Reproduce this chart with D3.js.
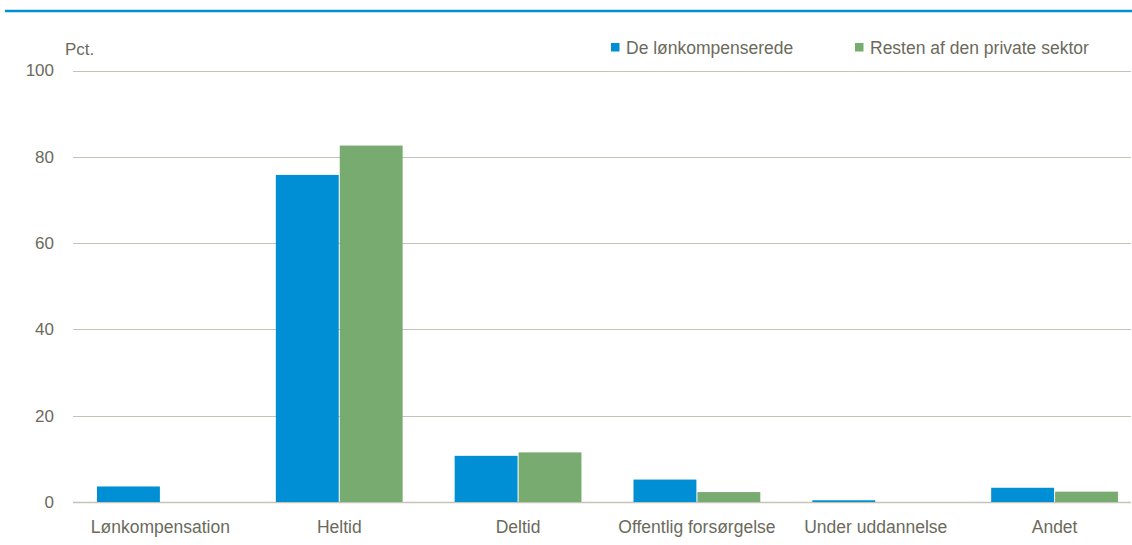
<!DOCTYPE html>
<html>
<head>
<meta charset="utf-8">
<script src="https://cdn.jsdelivr.net/npm/d3@7"></script>
<style>
  body { margin: 0; background: #fff; }
  svg text { font-family: "Liberation Sans", Arial, sans-serif; fill: #6b6a5c; }
</style>
</head>
<body>
<svg id="chart" width="1132" height="545"></svg>
<script>
// data
var categories = ["Lønkompensation", "Heltid", "Deltid", "Offentlig forsørgelse", "Under uddannelse", "Andet"];
var seriesNames = ["De lønkompenserede", "Resten af den private sektor"];
var lonkompenserede = [3.6, 75.8, 10.7, 5.2, 0.4, 3.3];
var restenPrivat = [0, 82.6, 11.5, 2.3, 0, 2.4];
var yTicks = [0, 20, 40, 60, 80, 100];

var colors = ["#008fd5", "#78ab6f"];

var svg = d3.select("#chart");
var W = +svg.attr("width");

// blue rule along the top
svg.append("line")
    .attr("x1", 5).attr("x2", W)
    .attr("y1", 11).attr("y2", 11)
    .attr("stroke", "#008fd5")
    .attr("stroke-width", 2.5);

var x = d3.scaleBand().domain(categories).range([71, 1144]).paddingInner(0).paddingOuter(0);
var inner = d3.scaleBand().domain([0, 1]).range([26, 178.8 - 26]).paddingInner(0.016);
var y = d3.scaleLinear().domain([0, 100]).range([502, 70.5]);

// gridlines
svg.append("g").selectAll("line")
    .data(yTicks)
    .enter().append("line")
      .attr("x1", 73).attr("x2", W - 1)
      .attr("y1", function(d) { return Math.round(y(d)) + 0.5; })
      .attr("y2", function(d) { return Math.round(y(d)) + 0.5; })
      .attr("stroke", "#c4c3b8")
      .attr("stroke-width", function(d) { return d === 0 ? 1.5 : 1.2; });

// y axis labels
var yAxis = svg.append("g")
    .attr("transform", "translate(54,0)")
    .call(d3.axisLeft(y).tickValues(yTicks).tickSize(0).tickPadding(0));
yAxis.select(".domain").remove();
yAxis.selectAll("text")
    .style("font-size", "17px")
    .style("font-family", "'Liberation Sans', Arial, sans-serif")
    .attr("fill", "#6b6a5c");

svg.append("text")
    .attr("x", 65).attr("y", 55)
    .style("font-size", "17px")
    .text("Pct.");

// bars
var rows = categories.map(function(c, i) {
  return { cat: c, values: [lonkompenserede[i], restenPrivat[i]] };
});

var groups = svg.append("g").selectAll("g")
    .data(rows)
    .enter().append("g")
      .attr("transform", function(d) { return "translate(" + x(d.cat) + ",0)"; });

groups.selectAll("rect")
    .data(function(d) { return d.values.map(function(v, k) { return { k: k, v: v }; }); })
    .enter().append("rect")
      .filter(function(d) { return d.v > 0; })
      .attr("x", function(d) { return inner(d.k); })
      .attr("width", inner.bandwidth())
      .attr("y", function(d) { return y(d.v); })
      .attr("height", function(d) { return y(0) - y(d.v); })
      .attr("fill", function(d) { return colors[d.k]; });

// x axis labels
var xAxis = svg.append("g")
    .attr("transform", "translate(0,503)")
    .call(d3.axisBottom(x).tickSize(0).tickPadding(18));
xAxis.select(".domain").remove();
xAxis.selectAll("text")
    .style("font-size", "17.5px")
    .style("font-family", "'Liberation Sans', Arial, sans-serif")
    .attr("fill", "#6b6a5c");

// legend
var legendX = [611, 855];
var legend = svg.append("g").selectAll("g")
    .data(seriesNames)
    .enter().append("g")
      .attr("transform", function(d, i) { return "translate(" + legendX[i] + ",43)"; });
legend.append("rect")
    .attr("width", 8.5).attr("height", 8.5)
    .attr("fill", function(d, i) { return colors[i]; });
legend.append("text")
    .attr("x", 15).attr("y", 4.5)
    .attr("dy", "0.35em")
    .style("font-size", "17.5px")
    .text(function(d) { return d; });
</script>
</body>
</html>
